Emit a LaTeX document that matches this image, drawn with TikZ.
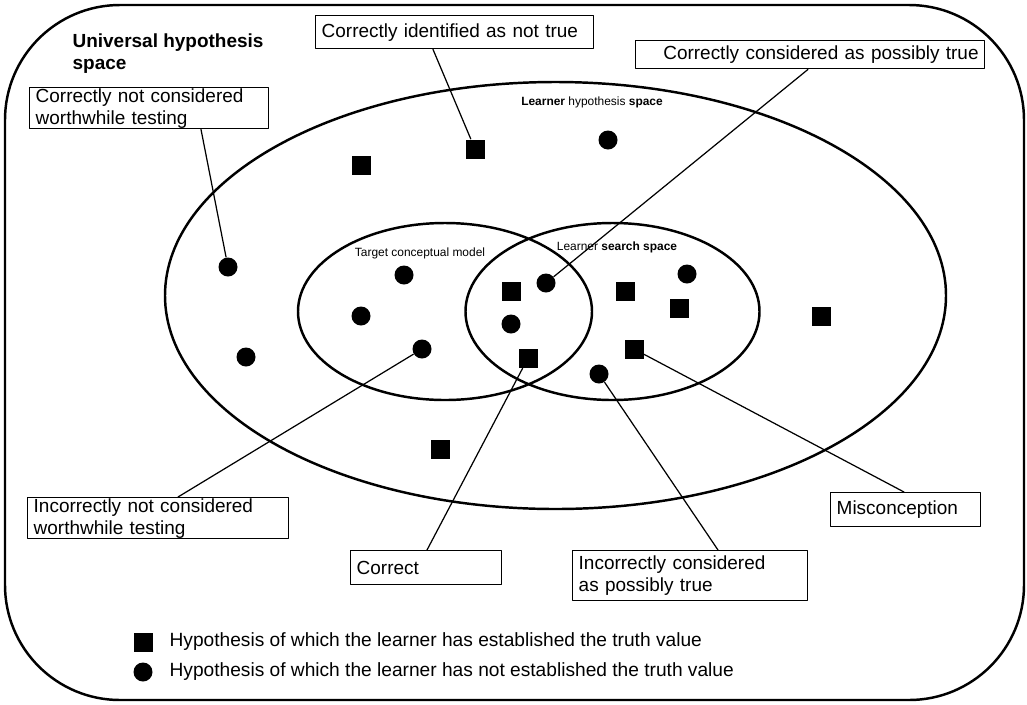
\documentclass[tikz,border=0pt]{standalone}
\usepackage{fontspec}
\setmainfont{Liberation Sans}
\usetikzlibrary{positioning}
\tikzstyle{every node}=[font=\fontsize{10.8}{12.5}\selectfont]
\tikzstyle{every path}=[line width=0.7pt,line cap=round,line join=round]
\tikzstyle{lbl}=[draw,line width=0.8pt,anchor=north west,align=left,inner xsep=0.12cm,inner ysep=0pt]
\tikzstyle{sq}=[fill,rectangle,minimum size=0.38cm,inner sep=0pt]
\tikzstyle{dt}=[fill,circle,minimum size=0.38cm,inner sep=0pt]
\tikzstyle{tiny}=[font=\fontsize{6.8}{8}\selectfont]
\tikzstyle{set}=[line width=1.4pt]

\begin{document}
\begin{tikzpicture}[x=0.02cm,y=-0.02cm]
\useasboundingbox (0,0) rectangle (1027,704);
\draw[set,rounded corners=2.3cm] (5,5) rectangle (1024,700);
\draw[set]
    (555.5,295.5) ellipse [x radius=390.5,y radius=213.5]
    (445,311.5) ellipse [x radius=147,y radius=88.5]
    (612.5,311.5) ellipse [x radius=147,y radius=88.5];
\node[anchor=west,align=left,inner sep=0pt,font=\bfseries\fontsize{10.8}{12.5}\selectfont] (univ) at (72,54) {Universal hypothesis\\space};
\node[tiny] (hyp) at (592,102) {\textbf{Learner} hypothesis \textbf{space}};
\node[tiny] (target) at (420,253) {Target conceptual model};
\node[tiny] (search) at (617,247) {Learner \textbf{search space}};
% hypotheses
\node[sq] (sq1) at (361,165) {};
\node[sq] (sq2) at (475,149) {};
\node[sq] (sq3) at (511,291) {};
\node[sq] (sq4) at (528,358) {};
\node[sq] (sq5) at (625,291) {};
\node[sq] (sq6) at (679,308) {};
\node[sq] (sq7) at (634,349) {};
\node[sq] (sq8) at (821,316) {};
\node[sq] (sq9) at (440,449) {};
\node[dt] (dt1) at (608,140) {};
\node[dt] (dt2) at (228,267) {};
\node[dt] (dt3) at (246,357) {};
\node[dt] (dt4) at (404,275) {};
\node[dt] (dt5) at (361,316) {};
\node[dt] (dt6) at (422,349) {};
\node[dt] (dt7) at (546,283) {};
\node[dt] (dt8) at (511,324) {};
\node[dt] (dt9) at (687,274) {};
\node[dt] (dt10) at (599,374) {};
% boxes
\node[lbl,text width=5.32cm,minimum height=0.66cm] (idnot) at (315,15) {Correctly identified as not true};
\node[lbl,text width=6.74cm,minimum height=0.56cm,align=right] (posstrue) at (635,40) {Correctly considered as possibly true};
\node[lbl,text width=4.54cm,minimum height=0.82cm] (notwth) at (29,87) {Correctly not considered\\worthwhile testing};
\node[lbl,text width=4.98cm,minimum height=0.82cm] (incnot) at (27,497) {Incorrectly not considered\\worthwhile testing};
\node[lbl,text width=2.78cm,minimum height=0.68cm] (corr) at (350,550) {Correct};
\node[lbl,text width=4.46cm,minimum height=1.0cm] (incposs) at (572,550) {Incorrectly considered\\as possibly true};
\node[lbl,text width=2.76cm,minimum height=0.68cm] (miscon) at (830,492) {Misconception};
% leaders
\draw (idnot.south west) ++(118,0) -- (sq2);
\draw (posstrue.south west) ++(173,0) -- (dt7);
\draw (notwth.south west) ++(172,0) -- (dt2);
\draw (incnot.north west) ++(151,0) -- (dt6);
\draw (corr.north west) ++(77,0) -- (sq4);
\draw (incposs.north west) ++(146,0) -- (dt10);
\draw (miscon.north west) ++(74,0) -- (sq7);
% legend
\node[sq] (legsq) at (143,642) {};
\node[dt] (legdt) at (143,672) {};
\node[anchor=west,inner sep=0pt,font=\fontsize{10.9}{12}\selectfont] (legA) at (169,642) {Hypothesis of which the learner has established the truth value};
\node[anchor=west,inner sep=0pt,font=\fontsize{10.9}{12}\selectfont] (legB) at (169,672) {Hypothesis of which the learner has not established the truth value};
\end{tikzpicture}
\end{document}
